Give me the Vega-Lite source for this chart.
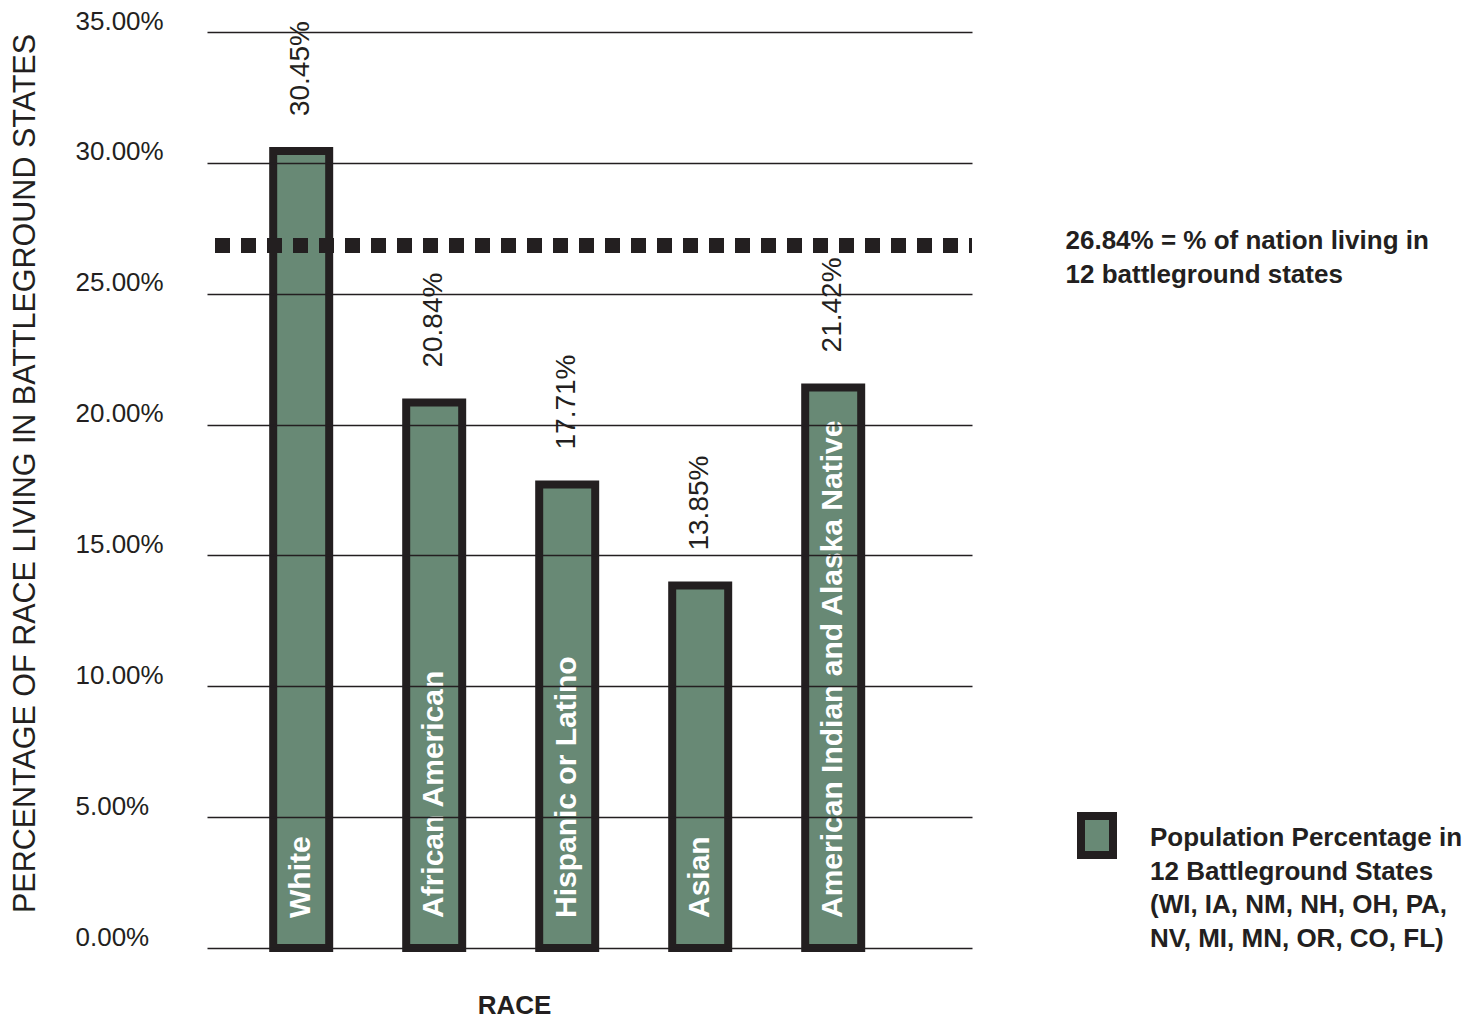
{
  "$schema": "https://vega.github.io/schema/vega-lite/v6.json",
  "width": 765,
  "height": 916,
  "autosize": "none",
  "padding": {"left": 207, "top": 32, "right": 499, "bottom": 70},
  "background": "white",
  "config": {
    "font": "Liberation Sans",
    "view": {"stroke": null},
    "style": {"guide-label": {"lineHeight": 33.5}}
  },
  "resolve": {"axis": {"y": "independent"}},
  "layer": [
    {
      "data": {
        "values": [
          {"race": "White", "pct": 0.3045},
          {"race": "African American", "pct": 0.2084},
          {"race": "Hispanic or Latino", "pct": 0.1771},
          {"race": "Asian", "pct": 0.1385},
          {"race": "American Indian and Alaska Native", "pct": 0.2142}
        ]
      },
      "encoding": {
        "x": {
          "field": "race",
          "type": "nominal",
          "sort": null,
          "scale": {"paddingInner": 0.579, "paddingOuter": 0.6654, "align": 0.374},
          "axis": {
            "labels": false,
            "ticks": false,
            "domain": false,
            "title": "RACE",
            "titleX": 307,
            "titleY": 65,
            "titleAlign": "center",
            "titleBaseline": "alphabetic",
            "titleFontSize": 26,
            "titleFontWeight": "bold",
            "titleColor": "#231f20"
          }
        },
        "y": {
          "field": "pct",
          "type": "quantitative",
          "scale": {"domain": [0, 0.35], "nice": false, "zero": true},
          "axis": {
            "orient": "left",
            "values": [0, 0.05, 0.1, 0.15, 0.2, 0.25, 0.3, 0.35],
            "format": ".2%",
            "domain": false,
            "ticks": false,
            "tickSize": 0,
            "labelPadding": 132,
            "labelAlign": "left",
            "labelBaseline": "alphabetic",
            "labelOffset": -3,
            "labelFontSize": 26,
            "labelColor": "#231f20",
            "grid": true,
            "gridColor": "#231f20",
            "gridWidth": 1.5,
            "gridOpacity": 1,
            "zindex": 1,
            "title": "PERCENTAGE OF RACE LIVING IN BATTLEGROUND STATES",
            "titleX": -182,
            "titleY": 441,
            "titleAngle": 270,
            "titleAlign": "center",
            "titleBaseline": "middle",
            "titleFontSize": 30.5,
            "titleFontWeight": "normal",
            "titleColor": "#231f20"
          }
        }
      },
      "layer": [
        {
          "mark": {"type": "bar", "stroke": "#231f20", "strokeWidth": 8},
          "encoding": {
            "fill": {
              "datum": "Population Percentage in 12 Battleground States (WI, IA, NM, NH, OH, PA, NV, MI, MN, OR, CO, FL)",
              "scale": {"range": ["#688975"]},
              "legend": {
                "title": null,
                "orient": "none",
                "legendX": 870,
                "legendY": 794,
                "padding": 0,
                "offset": 0,
                "symbolType": "M-1,-1.875H1V0.563H-1Z",
                "symbolSize": 1024,
                "symbolStrokeWidth": 8,
                "symbolStrokeColor": "#231f20",
                "symbolOpacity": 1,
                "labelExpr": "['Population Percentage in', '12 Battleground States', '(WI, IA, NM, NH, OH, PA,', 'NV, MI, MN, OR, CO, FL)']",
                "labelFontSize": 26,
                "labelFontWeight": "bold",
                "labelColor": "#231f20",
                "labelBaseline": "alphabetic",
                "labelOffset": 33,
                "labelLimit": 500
              }
            }
          }
        },
        {
          "mark": {"type": "text", "angle": 270, "align": "left", "baseline": "middle", "dx": 35, "fontSize": 28, "color": "#231f20"},
          "encoding": {
            "text": {"field": "pct", "type": "quantitative", "format": ".2%"}
          }
        },
        {
          "mark": {"type": "text", "angle": 270, "align": "left", "baseline": "middle", "dx": 30, "fontSize": 30, "fontWeight": "bold", "color": "white"},
          "encoding": {
            "y": {"datum": 0, "type": "quantitative"},
            "text": {"field": "race", "type": "nominal"}
          }
        }
      ]
    },
    {
      "data": {"values": [{"nation": 0.2684}]},
      "mark": {"type": "rule", "stroke": "#231f20", "strokeWidth": 15, "strokeDash": [15, 11], "strokeDashOffset": 12},
      "encoding": {
        "y": {
          "field": "nation",
          "type": "quantitative",
          "scale": {"domain": [0, 0.35], "nice": false, "zero": true},
          "axis": {
            "orient": "right",
            "values": [0.2684],
            "title": null,
            "domain": false,
            "ticks": false,
            "tickSize": 0,
            "grid": false,
            "labelPadding": 93,
            "labelAlign": "left",
            "labelBaseline": "alphabetic",
            "labelOffset": 3,
            "labelLineHeight": 34,
            "labelFontSize": 26,
            "labelFontWeight": "bold",
            "labelColor": "#231f20",
            "labelLimit": 500,
            "labelExpr": "[format(datum.value, '.2%') + ' = % of nation living in', '12 battleground states']"
          }
        }
      }
    }
  ]
}
